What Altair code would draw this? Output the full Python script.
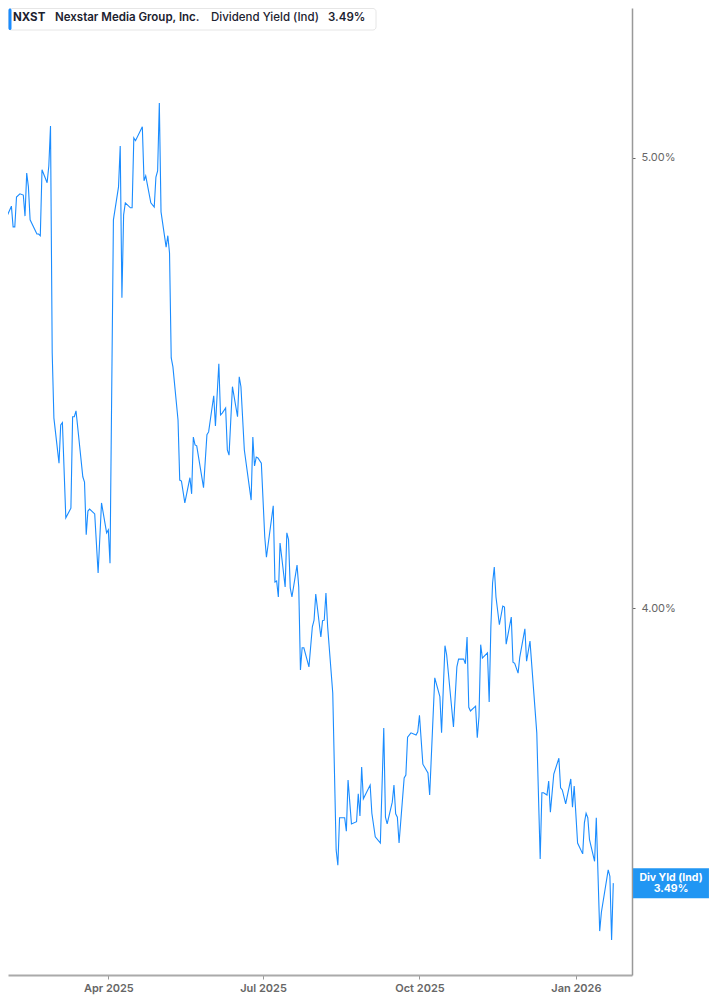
import altair as alt
import pandas as pd

dates = [
"2025-01-27","2025-01-28","2025-01-29","2025-01-30","2025-01-31",
"2025-02-03","2025-02-04","2025-02-05","2025-02-06","2025-02-08",
"2025-02-10","2025-02-11","2025-02-12","2025-02-13","2025-02-14",
"2025-02-18","2025-02-19","2025-02-20","2025-02-21","2025-02-24",
"2025-02-25","2025-02-26","2025-02-27","2025-02-28","2025-03-03",
"2025-03-04","2025-03-05","2025-03-07","2025-03-10","2025-03-11",
"2025-03-12","2025-03-13","2025-03-17","2025-03-18","2025-03-19",
"2025-03-20","2025-03-21","2025-03-24","2025-03-26","2025-03-28",
"2025-03-31","2025-04-01","2025-04-02","2025-04-04","2025-04-07",
"2025-04-08","2025-04-09","2025-04-10","2025-04-11","2025-04-14",
"2025-04-15","2025-04-16","2025-04-17","2025-04-21","2025-04-22",
"2025-04-23","2025-04-26","2025-04-28","2025-04-29","2025-04-30",
"2025-05-01","2025-05-02","2025-05-05","2025-05-06","2025-05-07",
"2025-05-08","2025-05-09","2025-05-12","2025-05-13","2025-05-14",
"2025-05-16","2025-05-19","2025-05-20","2025-05-21","2025-05-22",
"2025-05-23","2025-05-27","2025-05-29","2025-05-30","2025-06-02",
"2025-06-03","2025-06-05","2025-06-06","2025-06-07","2025-06-09",
"2025-06-10","2025-06-11","2025-06-13","2025-06-16","2025-06-17",
"2025-06-18","2025-06-20","2025-06-24","2025-06-25","2025-06-26",
"2025-06-27","2025-06-28","2025-06-30","2025-07-02","2025-07-03",
"2025-07-07","2025-07-08","2025-07-09","2025-07-10","2025-07-11",
"2025-07-12","2025-07-14","2025-07-15","2025-07-16","2025-07-17",
"2025-07-18","2025-07-21","2025-07-22","2025-07-23","2025-07-24",
"2025-07-25","2025-07-28","2025-07-30","2025-07-31","2025-08-01",
"2025-08-04","2025-08-05","2025-08-06","2025-08-07","2025-08-08",
"2025-08-11","2025-08-13","2025-08-14","2025-08-15","2025-08-18",
"2025-08-19","2025-08-20","2025-08-22","2025-08-25","2025-08-26",
"2025-08-27","2025-08-28","2025-08-29","2025-09-02","2025-09-03",
"2025-09-05","2025-09-08","2025-09-10","2025-09-11","2025-09-12",
"2025-09-15","2025-09-16","2025-09-17","2025-09-18","2025-09-19",
"2025-09-22","2025-09-23","2025-09-24","2025-09-26","2025-09-29",
"2025-09-30","2025-10-01","2025-10-03","2025-10-06","2025-10-07",
"2025-10-10","2025-10-13","2025-10-14","2025-10-16","2025-10-17",
"2025-10-21","2025-10-23","2025-10-24","2025-10-27","2025-10-28",
"2025-10-29","2025-10-30","2025-10-31","2025-11-03","2025-11-04",
"2025-11-05","2025-11-06","2025-11-07","2025-11-10","2025-11-11",
"2025-11-12","2025-11-13","2025-11-14","2025-11-15","2025-11-17",
"2025-11-19","2025-11-20","2025-11-21","2025-11-24","2025-11-25",
"2025-11-26","2025-11-28","2025-11-29","2025-12-02","2025-12-03",
"2025-12-05","2025-12-09","2025-12-11","2025-12-12","2025-12-13",
"2025-12-15","2025-12-16","2025-12-17","2025-12-19","2025-12-22",
"2025-12-23","2025-12-24","2025-12-26","2025-12-29","2025-12-30",
"2025-12-31","2026-01-02","2026-01-05","2026-01-06","2026-01-07",
"2026-01-08","2026-01-09","2026-01-12","2026-01-13","2026-01-15",
"2026-01-16","2026-01-20","2026-01-21","2026-01-22","2026-01-23",
]

div_yield = [
4.290, 4.730, 4.742, 4.742, 4.854,
4.882, 4.832, 4.832, 4.904, 4.912,
4.909, 4.858, 4.963, 4.929, 4.849,
4.815, 4.815, 4.811, 4.971, 4.939,
4.980, 5.080, 4.539, 4.395, 4.298,
4.380, 4.385, 4.183, 4.203, 4.398,
4.398, 4.411, 4.269, 4.258, 4.148,
4.197, 4.201, 4.191, 4.070, 4.214,
4.152, 4.158, 4.090, 4.849, 4.929,
5.030, 4.665, 4.861, 4.890, 4.878,
4.878, 5.050, 5.043, 5.078, 4.944,
4.956, 4.890, 4.880, 4.953, 4.968,
5.138, 4.868, 4.784, 4.811, 4.770,
4.528, 4.508, 4.391, 4.262, 4.260,
4.214, 4.267, 4.233, 4.354, 4.337,
4.335, 4.246, 4.359, 4.365, 4.444,
4.378, 4.515, 4.402, 4.406, 4.417,
4.326, 4.315, 4.464, 4.398, 4.486,
4.464, 4.326, 4.220, 4.354, 4.292,
4.311, 4.309, 4.298, 4.144, 4.102,
4.208, 4.052, 4.054, 4.022, 4.131,
4.102, 4.042, 4.152, 4.138, 4.040,
4.022, 4.086, 4.042, 3.879, 3.922,
3.922, 3.885, 3.963, 3.976, 4.028,
3.943, 3.975, 3.976, 4.030, 3.963,
3.835, 3.548, 3.521, 3.605, 3.605,
3.581, 3.673, 3.594, 3.598, 3.648,
3.608, 3.697, 3.639, 3.664, 3.613,
3.571, 3.560, 3.769, 3.606, 3.594,
3.633, 3.664, 3.612, 3.606, 3.560,
3.677, 3.682, 3.752, 3.760, 3.756,
3.762, 3.793, 3.702, 3.686, 3.646,
3.864, 3.828, 3.760, 3.926, 3.908,
3.771, 3.885, 3.900, 3.900, 3.891,
3.943, 3.808, 3.801, 3.810, 3.751,
3.790, 3.928, 3.902, 3.912, 3.818,
3.963, 4.050, 4.082, 4.022, 3.967,
4.004, 4.002, 3.929, 3.982, 3.894,
3.892, 3.873, 3.904, 3.959, 3.896,
3.935, 3.760, 3.532, 3.650, 3.650,
3.646, 3.671, 3.615, 3.684, 3.713,
3.659, 3.655, 3.630, 3.675, 3.624,
3.662, 3.560, 3.541, 3.596, 3.613,
3.605, 3.566, 3.528, 3.605, 3.408,
3.440, 3.513, 3.502, 3.393, 3.490,
]

ticker = "NXST"
company = "Nexstar Media Group, Inc."
metric = "Dividend Yield (Ind)"
badge_title = "Div Yld (Ind)"
y_ticks = [4, 5]

BLUE = "#1a8cff"
BADGE = "#2196f3"
FONT = "Inter"

df = pd.DataFrame({"date": dates, "yield": div_yield})
last_val = div_yield[-1]
last_df = pd.DataFrame({"date": [dates[-1]], "yield": [last_val],
                        "t1": [badge_title], "t2": [f"{last_val:.2f}%"]})
one = pd.DataFrame({"k": [0]})

x_scale = alt.Scale(type="utc", domain=[
    alt.DateTime(year=2025, month=2, date=1, utc=True),
    alt.DateTime(year=2026, month=2, date=3, utc=True)])
y_scale = alt.Scale(type="log", domain=[3.3346, 5.386], nice=False, zero=False)

x_ticks = [alt.DateTime(year=2025, month=4, date=1, utc=True),
           alt.DateTime(year=2025, month=7, date=1, utc=True),
           alt.DateTime(year=2025, month=10, date=1, utc=True),
           alt.DateTime(year=2026, month=1, date=1, utc=True)]

line = alt.Chart(df).mark_line(color=BLUE, strokeWidth=1.1, clip=True).encode(
    x=alt.X("date:T", scale=x_scale, axis=alt.Axis(
        values=x_ticks, labelExpr="utcFormat(datum.value, '%b %Y')", title=None,
        grid=False, tickSize=4, tickColor="#999", domainColor="#aaa", domainWidth=2,
        labelColor="#666", labelFont=FONT, labelFontSize=11, labelFontWeight=600,
        labelPadding=3)),
    y=alt.Y("yield:Q", scale=y_scale, axis=alt.Axis(
        orient="right", values=y_ticks,
        labelExpr="format(datum.value, '.2f') + '%'", title=None, grid=False,
        tickSize=3, tickColor="#666", domainColor="#999", domainWidth=1.5,
        labelColor="#666", labelFont=FONT, labelFontSize=11, labelPadding=6)),
)

legend_box = alt.Chart(one).mark_rect(fill="white", stroke="#e6e6e6", cornerRadius=3).encode(
    x=alt.value(0.5), x2=alt.value(368), y=alt.value(0.5), y2=alt.value(22))
legend_bar = alt.Chart(one).mark_rect(color=BLUE, cornerRadius=1.5).encode(
    x=alt.value(0.5), x2=alt.value(3.5), y=alt.value(0.5), y2=alt.value(22))

def ltext(txt, xpos, weight):
    return alt.Chart(one).mark_text(align="left", baseline="middle", font=FONT,
                                    fontSize=11.5, fontWeight=weight, color="#1c2230").encode(
        x=alt.value(xpos), y=alt.value(10), text=alt.value(txt))

t_ticker = ltext(ticker, 5, 700)
t_company = ltext(company, 47, 600)
t_metric = ltext(metric, 203, 500)
t_value = ltext(f"{last_val:.2f}%", 320, 600)

badge = alt.Chart(last_df).mark_point(
    shape="M-2.53,-1H2.53V1H-2.53Z", size=900, filled=True, opacity=1,
    color=BADGE, strokeWidth=0).encode(
    x=alt.value(663), y=alt.Y("yield:Q", scale=y_scale))
badge_t1 = alt.Chart(last_df).mark_text(color="white", font=FONT, fontSize=10.5,
                                        fontWeight=700, dy=-5.5).encode(
    x=alt.value(663), y=alt.Y("yield:Q", scale=y_scale), text="t1:N")
badge_t2 = alt.Chart(last_df).mark_text(color="white", font=FONT, fontSize=10.5,
                                        fontWeight=700, dy=6).encode(
    x=alt.value(663), y=alt.Y("yield:Q", scale=y_scale), text="t2:N")

chart = alt.layer(
    line, legend_box, legend_bar, t_ticker, t_company, t_metric, t_value,
    badge, badge_t1, badge_t2
).properties(
    width=624, height=967,
    autosize=alt.AutoSizeParams(type="none"),
    padding={"left": 0, "top": 0, "right": 77, "bottom": 22},
).configure_view(stroke=None)

chart.save("out.html", embed_options={"renderer": "svg", "actions": False})
